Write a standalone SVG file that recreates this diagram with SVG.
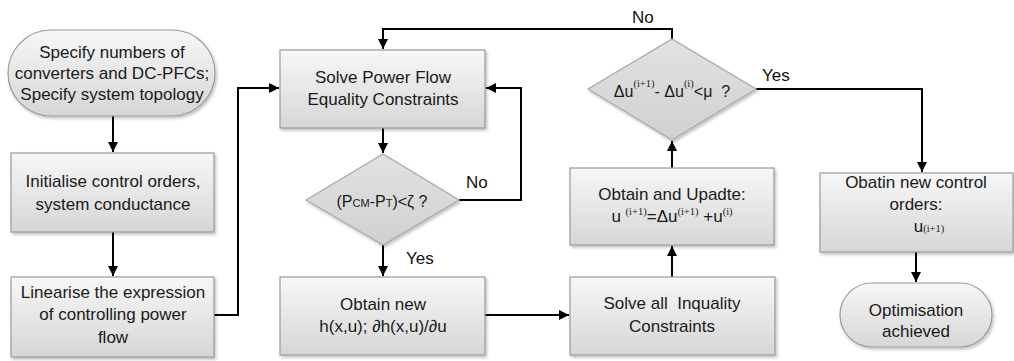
<svg xmlns="http://www.w3.org/2000/svg" width="1014" height="361" viewBox="0 0 1014 361">
<style>
.t{font-family:"Liberation Sans",Arial,sans-serif;font-size:17px;fill:#1a1a1a;text-anchor:middle}
.d{font-size:16px}
.p{white-space:pre}
.l{font-family:"Liberation Sans",Arial,sans-serif;font-size:17px;fill:#111}
.s{font-family:"Liberation Serif","Times New Roman",serif;font-size:10.5px}
.box{fill:url(#g);stroke:#9a9a9a;stroke-width:1.2;filter:url(#sh)}
.dia{fill:url(#gd);stroke:#a8a8a8;stroke-width:1.2;filter:url(#sh)}
.c{fill:none;stroke:#000;stroke-width:2}
</style>
<defs>
<linearGradient id="g" x1="0" y1="0" x2="0" y2="1"><stop offset="0" stop-color="#f7f7f7"/><stop offset="1" stop-color="#d6d6d6"/></linearGradient>
<linearGradient id="gd" x1="0" y1="0" x2="0" y2="1"><stop offset="0" stop-color="#e2e2e2"/><stop offset="1" stop-color="#d0d0d0"/></linearGradient>
<filter id="sh" x="-10%" y="-10%" width="130%" height="140%"><feDropShadow dx="1.5" dy="2" stdDeviation="1.5" flood-color="#000" flood-opacity="0.25"/></filter>
<marker id="a" viewBox="0 0 10 10" refX="10" refY="5" markerWidth="5.5" markerHeight="5" orient="auto" markerUnits="strokeWidth"><path d="M0,0 L10,5 L0,10 z" fill="#000"/></marker>
</defs>
<g id="connectors">
<path class="c" d="M113,116 V152" marker-end="url(#a)"/>
<path class="c" d="M113,232 V276" marker-end="url(#a)"/>
<path class="c" d="M214,315 H238 V88 H279" marker-end="url(#a)"/>
<path class="c" d="M383,128 V153" marker-end="url(#a)"/>
<path class="c" d="M459,200 H521 V88 H486" marker-end="url(#a)"/>
<path class="c" d="M383,245 V276" marker-end="url(#a)"/>
<path class="c" d="M485,315 H569" marker-end="url(#a)"/>
<path class="c" d="M672,277 V246" marker-end="url(#a)"/>
<path class="c" d="M672,168 V141" marker-end="url(#a)"/>
<path class="c" d="M672,39 V29 H383 V49" marker-end="url(#a)"/>
<path class="c" d="M756,89 H922 V172" marker-end="url(#a)"/>
<path class="c" d="M916,252 V282" marker-end="url(#a)"/>
<text class="l" x="466" y="188">No</text>
<text class="l" x="406" y="264">Yes</text>
<text class="l" x="632" y="23">No</text>
<text class="l" x="762" y="81">Yes</text>
</g>
<g id="start">
<rect class="box" x="8" y="30" width="207" height="86" rx="43" ry="43"/>
<text class="t" x="112" y="58">Specify numbers of</text>
<text class="t" x="112" y="79">converters and DC-PFCs;</text>
<text class="t" x="112" y="100">Specify system topology</text>
</g>
<g id="init">
<rect class="box" x="11" y="153" width="203" height="79"/>
<text class="t" x="113" y="187">Initialise control orders,</text>
<text class="t" x="113" y="210">system conductance</text>
</g>
<g id="linearise">
<rect class="box" x="11" y="277" width="203" height="80"/>
<text class="t" x="113" y="298">Linearise the expression</text>
<text class="t" x="113" y="320">of controlling power</text>
<text class="t" x="113" y="343">flow</text>
</g>
<g id="solve-eq">
<rect class="box" x="280" y="50" width="205" height="78"/>
<text class="t" x="383" y="83">Solve Power Flow</text>
<text class="t" x="383" y="105">Equality Constraints</text>
</g>
<g id="check-p">
<polygon class="dia" points="383,154 459,200 383,245 306,200"/>
<text class="t d" x="382" y="207">(P<tspan font-size="11">CM</tspan>-P<tspan font-size="11">T</tspan>)&lt;ζ ?</text>
</g>
<g id="obtain-h">
<rect class="box" x="280" y="277" width="205" height="78"/>
<text class="t" x="383" y="310">Obtain new</text>
<text class="t" x="383" y="332">h(x,u); ∂h(x,u)/∂u</text>
</g>
<g id="solve-ineq">
<rect class="box" x="570" y="277" width="205" height="78"/>
<text class="t p" x="672" y="309">Solve all  Inquality</text>
<text class="t" x="672" y="332">Constraints</text>
</g>
<g id="update">
<rect class="box" x="570" y="168" width="204" height="77"/>
<text class="t" x="672" y="200">Obtain and Upadte:</text>
<text class="t" x="672" y="222">u <tspan class="s" dy="-7">(i+1)</tspan><tspan dy="7">=Δu</tspan><tspan class="s" dy="-7">(i+1)</tspan><tspan dy="7"> +u</tspan><tspan class="s" dy="-7">(i)</tspan></text>
</g>
<g id="check-u">
<polygon class="dia" points="672,39 756,89 672,140 588,89"/>
<text class="t d p" x="672" y="97">Δu<tspan class="s" dy="-10">(i+1)</tspan><tspan dy="10">- Δu</tspan><tspan class="s" dy="-10">(i)</tspan><tspan dy="10">&lt;μ  ?</tspan></text>
</g>
<g id="new-orders">
<rect class="box" x="820" y="173" width="193" height="79"/>
<text class="t" x="916" y="188">Obatin new control</text>
<text class="t" x="916" y="210">orders:</text>
<text class="t" x="929" y="232">u<tspan class="s">(i+1)</tspan></text>
</g>
<g id="end">
<rect class="box" x="840" y="283" width="152" height="64" rx="32" ry="32"/>
<text class="t" x="916" y="316">Optimisation</text>
<text class="t" x="916" y="337">achieved</text>
</g>
</svg>
